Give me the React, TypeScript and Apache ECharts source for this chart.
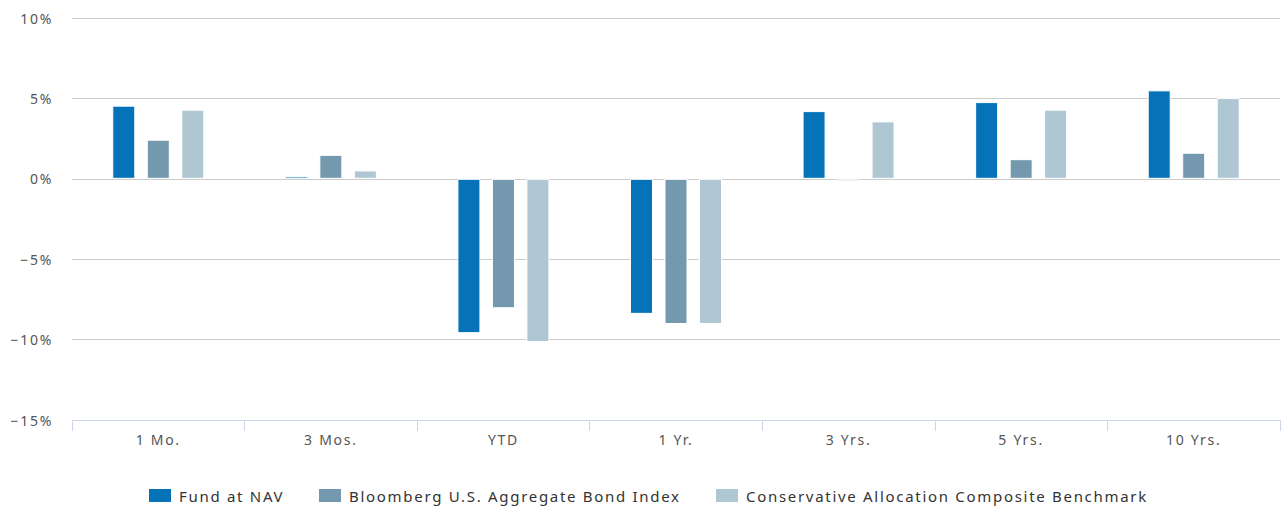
import React, { useEffect, useRef } from "react";
import * as echarts from "echarts";

const categories = ["1 Mo.", "3 Mos.", "YTD", "1 Yr.", "3 Yrs.", "5 Yrs.", "10 Yrs."];
const fundAtNav = [4.55, 0.15, -9.6, -8.4, 4.21, 4.77, 5.5];
const bloomberg = [2.43, 1.49, -8.05, -9.03, -0.15, 1.22, 1.62];
const conservative = [4.3, 0.52, -10.15, -9.03, 3.57, 4.3, 5.02];
const seriesNames = [
  "Fund at NAV",
  "Bloomberg U.S. Aggregate Bond Index",
  "Conservative Allocation Composite Benchmark",
];
const colors = ["#0673b8", "#7499ae", "#afc6d3"];
const legendLefts = [147, 317, 714];

const FONT = "'Noto Sans', sans-serif";

export default function App() {
  const ref = useRef<HTMLDivElement>(null);
  useEffect(() => {
    if (!ref.current) return;
    const chart = echarts.init(ref.current, undefined, { renderer: "svg" });
    const mk = (name: string, data: number[], color: string) => ({
      name,
      type: "bar",
      data,
      barWidth: 23,
      barGap: "50%",
      itemStyle: { color, borderColor: "#ffffff", borderWidth: 1 },
    });
    chart.setOption({
      animation: false,
      textStyle: { fontFamily: FONT },
      grid: { left: 72, right: 1, top: 18, bottom: 88, containLabel: false },
      legend: seriesNames.map((n, i) => ({
        top: 487,
        left: legendLefts[i],
        itemWidth: 24,
        itemHeight: 15,
        icon: "rect",
        padding: 0,
        textStyle: { fontFamily: FONT, fontSize: 15, color: "#333333", padding: [0, 0, 0, 2] },
        data: [n],
      })),
      xAxis: {
        type: "category",
        data: categories,
        position: "bottom",
        axisLine: { onZero: false, lineStyle: { color: "#ccd6eb", width: 1 } },
        axisTick: { show: true, length: 11, alignWithLabel: false, lineStyle: { color: "#ccd6eb" } },
        axisLabel: { color: "#555555", fontSize: 14, margin: 12, fontFamily: FONT },
        splitLine: { show: false },
      },
      yAxis: {
        type: "value",
        min: -15,
        max: 10,
        interval: 5,
        axisLine: { show: false },
        axisTick: { show: false },
        axisLabel: {
          color: "#555555",
          fontSize: 14,
          margin: 19,
          fontFamily: FONT,
          formatter: (v: number) => (v < 0 ? "\u2212" + Math.abs(v) : String(v)) + "%",
        },
        splitLine: { lineStyle: { color: "#cccccc", width: 1 } },
      },
      series: [
        mk(seriesNames[0], fundAtNav, colors[0]),
        mk(seriesNames[1], bloomberg, colors[1]),
        mk(seriesNames[2], conservative, colors[2]),
      ],
    });
    return () => chart.dispose();
  }, []);
  return (
    <>
      <style>{`#chart-root text { letter-spacing: 1.7px; }`}</style>
      <div
        id="chart-root"
        ref={ref}
        style={{ width: 1281, height: 508, position: "absolute", left: 0, top: 0 }}
      />
    </>
  );
}
